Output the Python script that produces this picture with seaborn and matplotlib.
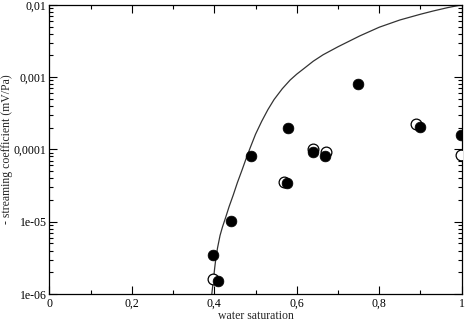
import numpy as np
import pandas as pd
import seaborn as sns
import matplotlib.pyplot as plt
from matplotlib.ticker import FixedLocator, FixedFormatter, LogLocator, NullFormatter, MultipleLocator

# measured points, filled symbols
sat_filled = [0.398, 0.410, 0.440, 0.489, 0.578, 0.576, 0.639, 0.669, 0.749, 0.900, 0.999]
coef_filled = [3.5e-6, 1.5e-6, 1.02e-5, 8.1e-5, 2.0e-4, 3.4e-5, 9.1e-5, 8.2e-5, 8.1e-4, 2.03e-4, 1.56e-4]

# measured points, open symbols
sat_open = [0.398, 0.568, 0.639, 0.670, 0.888, 0.997]
coef_open = [1.64e-6, 3.6e-5, 1.01e-4, 9.3e-5, 2.22e-4, 8.5e-5]

# model curve
sat_curve = [0.394, 0.396, 0.398, 0.401, 0.404, 0.408, 0.414, 0.420, 0.427, 0.436,
             0.446, 0.456, 0.467, 0.477, 0.487, 0.500, 0.515, 0.530, 0.545, 0.565,
             0.584, 0.600, 0.620, 0.640, 0.664, 0.700, 0.753, 0.800, 0.850, 0.900,
             0.931, 0.965, 1.000]
coef_curve = [1.00e-6, 1.26e-6, 1.58e-6, 2.29e-6, 3.16e-6, 4.37e-6, 6.46e-6, 8.51e-6, 1.12e-5, 1.62e-5,
              2.34e-5, 3.47e-5, 5.13e-5, 7.41e-5, 1.05e-4, 1.62e-4, 2.45e-4, 3.55e-4, 4.90e-4, 6.92e-4,
              9.12e-4, 1.10e-3, 1.35e-3, 1.66e-3, 2.04e-3, 2.63e-3, 3.72e-3, 4.90e-3, 6.17e-3, 7.41e-3,
              8.22e-3, 9.12e-3, 1.00e-2]

xticks = [0, 0.2, 0.4, 0.6, 0.8, 1.0]
xtick_labels = ["0", "0,2", "0,4", "0,6", "0,8", "1"]
yticks = [1e-6, 1e-5, 1e-4, 1e-3, 1e-2]
ytick_labels = ["1e-06", "1e-05", "0,0001", "0,001", "0,01"]

sns.set_theme(style="ticks")
plt.rcParams['font.family'] = ['Liberation Serif', 'DejaVu Serif']

fig = plt.figure(figsize=(4.65, 3.21), dpi=100)
ax = fig.add_axes([0.106, 0.084, 0.887, 0.901])

curve = pd.DataFrame({'sat': sat_curve, 'coef': coef_curve})
sns.lineplot(data=curve, x='sat', y='coef', sort=False, estimator=None,
             color='#333333', linewidth=0.9, ax=ax,
             solid_joinstyle='round', solid_capstyle='round')

df_open = pd.DataFrame({'sat': sat_open, 'coef': coef_open})
sns.scatterplot(data=df_open, x='sat', y='coef', s=60, facecolor='white',
                edgecolor='black', linewidth=0.9, ax=ax, zorder=3)

df_filled = pd.DataFrame({'sat': sat_filled, 'coef': coef_filled})
sns.scatterplot(data=df_filled, x='sat', y='coef', s=60, color='black',
                edgecolor='black', linewidth=0.5, ax=ax, zorder=4)

ax.set_yscale('log')
ax.set_xlim(0, 1)
ax.set_ylim(1e-6, 1e-2)

ax.xaxis.set_major_locator(FixedLocator(xticks))
ax.xaxis.set_major_formatter(FixedFormatter(xtick_labels))
ax.xaxis.set_minor_locator(MultipleLocator(0.1))
ax.yaxis.set_major_locator(FixedLocator(yticks))
ax.yaxis.set_major_formatter(FixedFormatter(ytick_labels))
ax.yaxis.set_minor_locator(LogLocator(base=10, subs=np.arange(2, 10), numticks=20))
ax.yaxis.set_minor_formatter(NullFormatter())

ax.tick_params(which='both', direction='in', top=True, right=True, colors='black',
               labelsize=8.5, width=0.8)
ax.tick_params(which='major', length=5.8)
ax.tick_params(which='minor', length=3)
ax.tick_params(axis='y', pad=2)
ax.tick_params(axis='x', pad=3)

for sp in ax.spines.values():
    sp.set_visible(True)
    sp.set_color('black')
    sp.set_linewidth(0.9)

ax.set_xlabel('water saturation', fontsize=8.5, va='center')
ax.set_ylabel('- streaming coefficient (mV/Pa)', fontsize=8.5, va='center')
ax.xaxis.set_label_coords(0.5, -0.076)
ax.yaxis.set_label_coords(-0.102, 0.5)

fig.savefig('out.png', dpi=100)
